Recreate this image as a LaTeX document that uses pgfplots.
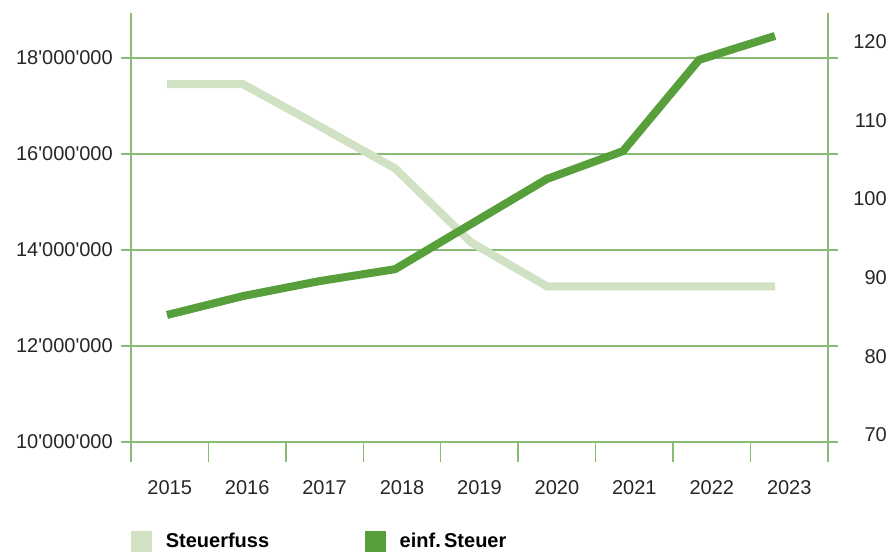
\documentclass[border=0pt]{standalone}
\usepackage{fontspec}
\setmainfont{Liberation Sans}
\usepackage{pgfplots}
\pgfplotsset{compat=1.18}
\usepackage{pgfplotstable}

\definecolor{gridc}{RGB}{134,188,116}
\definecolor{darkc}{RGB}{86,159,59}
\definecolor{lightc}{RGB}{209,225,195}

\newcommand\q{\textquotesingle}

% einf. Steuer (left axis)
\pgfplotstableread{
year value
2015 12646000
2016 13040000
2017 13350000
2018 13600000
2019 14540000
2020 15480000
2021 16060000
2022 17960000
2023 18460000
}\steuer

% Steuerfuss (right axis)
\pgfplotstableread{
year value
2015 114.6
2016 114.6
2017 109.3
2018 103.9
2019 94.5
2020 88.9
2021 88.9
2022 88.9
2023 88.9
}\fuss

\pgfplotsset{set layers}

\begin{document}
\begin{tikzpicture}
\pgfplotsset{
  common/.style={
    width=522.75pt, height=321.75pt, scale only axis,
    xmin=2014.52632, xmax=2023.69737,
    axis line style={draw=gridc, line width=1.1pt},
    tick label style={font=\fontsize{15}{18}\selectfont, text=black!85},
  }
}
% right axis, Steuerfuss
\begin{axis}[common,
  ymin=69.11, ymax=123.65,
  axis x line*=bottom, axis y line*=right,
  xtick={2014.5263,2015.5453,2016.5642,2017.5832,2018.6021,2019.6211,2020.6400,2021.6590,2022.6780,2023.6969},
  xticklabels={},
  major tick length=15pt,
  xtick align=outside, ytick align=inside,
  xtick style={draw=gridc, line width=1.1pt},
  ytick style={draw=none},
  ytick={70,80,90,100,110,120},
  yticklabels={70,80,90,100,110,120},
  yticklabel style={anchor=east, inner sep=0pt, xshift=44.25pt},
]
\addplot[draw=lightc, line width=6pt, line join=miter] table[x=year, y=value] {\fuss};
\end{axis}
% left axis, einf. Steuer
\begin{axis}[common,
  ymin=10000000, ymax=18937500,
  axis x line*=bottom, axis y line=box,
  yticklabel pos=left,
  ytick={10000000,12000000,14000000,16000000,18000000},
  yticklabels={10\q000\q000,12\q000\q000,14\q000\q000,16\q000\q000,18\q000\q000},
  ymajorgrids,
  major grid style={draw=gridc, line width=1.1pt},
  major tick length=7.5pt,
  ytick align=outside, xtick align=inside,
  ytick pos=both,
  ytick style={draw=gridc, line width=1.1pt},
  xtick={2015.0358,2016.0548,2017.0737,2018.0927,2019.1116,2020.1306,2021.1495,2022.1685,2023.1874},
  xticklabels={2015,2016,2017,2018,2019,2020,2021,2022,2023},
  xtick style={draw=none},
  xticklabel style={anchor=base, inner sep=0pt, yshift=-39pt},
  yticklabel style={anchor=east, inner sep=0pt, xshift=-6pt},
  legend columns=2,
  legend style={at={(0,0)}, anchor=north west, yshift=-66.75pt,
    draw=none, fill=none, inner sep=0pt,
    font=\fontsize{15}{18}\selectfont\bfseries,
    nodes={inner sep=0pt, anchor=west},
    /tikz/every odd column/.style={column sep=10.5pt},
    /tikz/every even column/.style={column sep=72pt}},
]
\coordinate (O) at (rel axis cs:0,0);
\addlegendimage{legend image code/.code={\fill[lightc] (0pt,-7.5pt) rectangle (15pt,7.5pt);}}
\addlegendimage{legend image code/.code={\fill[darkc] (0pt,-7.5pt) rectangle (15pt,7.5pt);}}
\addplot[draw=darkc, line width=6pt, line join=miter, forget plot] table[x=year, y=value] {\steuer};
\legend{Steuerfuss, einf.\,Steuer}
\end{axis}
\pgfresetboundingbox
\path ([shift={(-98.25pt,-85.5pt)}]O) rectangle ([shift={(570pt,331.5pt)}]O);
\end{tikzpicture}
\end{document}
